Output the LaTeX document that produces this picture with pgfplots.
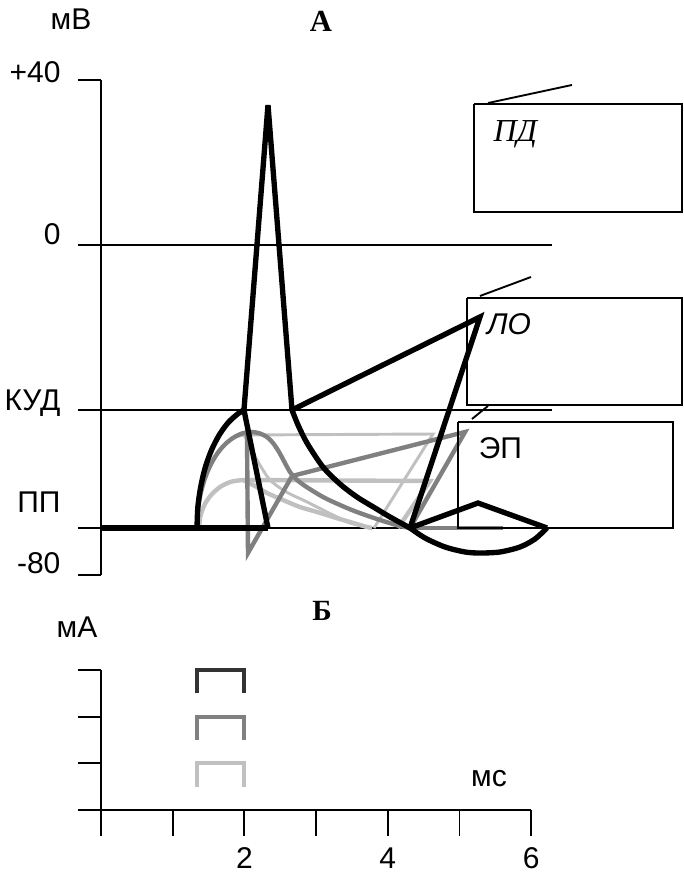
\documentclass[border=0pt]{standalone}
\usepackage{pgfplots}
\pgfplotsset{compat=1.18}
\usepackage{fontspec}
\setmainfont{Liberation Serif}
\newfontfamily\sans{Liberation Sans}

\definecolor{midgray}{HTML}{808080}
\definecolor{lightgray}{HTML}{C0C0C0}
\definecolor{darkgray}{HTML}{333333}

\newcommand{\lab}{\sans\fontsize{22.5}{26}\selectfont}

\begin{document}
\begin{tikzpicture}
\path[use as bounding box] (0,0) rectangle (512.25pt,655.5pt);

% ---------- panel A: membrane potential, mV vs ms ----------
\begin{axis}[
  at={(0,0)}, anchor=south west,
  width=512.25pt, height=655.5pt, scale only axis,
  hide axis, clip=false,
  xmin=-1.40865, xmax=8.11715,
  ymin=-152.4848, ymax=59.3939,
  thinline/.style={black, line width=1.4pt, line cap=butt},
  blk/.style={black, line width=4pt, line join=miter},
  mid/.style={midgray, line width=3.3pt},
  ltk/.style={lightgray, line width=3.3pt},
  ltn/.style={lightgray, line width=2.2pt},
]
% axis, ticks and reference levels
\addplot[thinline] coordinates {(0,40) (0,-80)};
\addplot[thinline] coordinates {(-0.321,40) (0,40)};
\addplot[thinline] coordinates {(-0.321,-80) (0,-80)};
\addplot[thinline] coordinates {(-0.321,0) (6.290,0)};
\addplot[thinline] coordinates {(-0.321,-40) (6.290,-40)};
\addplot[thinline] coordinates {(-0.321,-68.6) (6.290,-68.6)};

% weakest stimulus (thick light gray)
\addplot[ltk, smooth] coordinates {(1.367,-68.6) (1.388,-65.60) (1.449,-62.79) (1.547,-60.39) (1.674,-58.52) (1.822,-57.36) (1.980,-56.97)};
\addplot[ltk, smooth] coordinates {(1.980,-56.97) (2.148,-58.42) (2.315,-60.12) (2.538,-61.82) (2.775,-63.52) (3.013,-64.73) (3.236,-65.94) (3.473,-67.15) (3.710,-68.36) (3.780,-68.6)};
\addplot[ltk] coordinates {(1.980,-56.97) (4.589,-57.21) (4.142,-68.6)};

% thin light gray response
\addplot[ltn, smooth] coordinates {(1.339,-68.6) (1.350,-64.56) (1.385,-60.65) (1.442,-56.97) (1.519,-53.65) (1.612,-50.79) (1.722,-48.46) (1.844,-46.74) (1.994,-46.06)};
\addplot[ltn, smooth] coordinates {(1.994,-46.06) (2.050,-47.76) (2.106,-49.70) (2.176,-52.12) (2.259,-54.55) (2.357,-56.97) (2.497,-58.91) (2.636,-60.36) (2.817,-61.82) (3.013,-63.52) (3.264,-65.70) (3.473,-67.39) (3.752,-68.6)};
\addplot[ltn] coordinates {(1.994,-46.06) (4.630,-45.82) (3.808,-68.6)};

% subthreshold local response (medium gray)
\addplot[mid, smooth] coordinates {(1.339,-68.6) (1.350,-64.56) (1.385,-60.65) (1.442,-56.97) (1.519,-53.65) (1.612,-50.79) (1.722,-48.46) (1.844,-46.74) (1.972,-45.67) (2.106,-45.33) (2.218,-45.70) (2.315,-46.55) (2.399,-48.00) (2.483,-50.18) (2.566,-52.85) (2.636,-55.03) (2.720,-56.73) (2.845,-58.42) (3.096,-61.09) (3.333,-63.03) (3.570,-64.73) (3.891,-66.67) (4.170,-68.12) (4.310,-68.6)};
\addplot[mid] coordinates {(2.036,-45.58) (2.050,-74.67) (2.664,-56.00) (5.077,-45.33) (4.310,-68.6)};
\addplot[mid, line cap=butt] coordinates {(4.310,-68.6) (5.607,-68.6)};

% action potential (black)
\addplot[blk, line cap=butt] coordinates {(0,-68.6) (2.329,-68.6)};
\addplot[blk, smooth] coordinates {(1.339,-68.6) (1.351,-63.47) (1.392,-58.50) (1.456,-53.82) (1.544,-49.60) (1.653,-45.94) (1.778,-42.98) (1.918,-40.80) (1.994,-40)};
\addplot[blk] coordinates {(1.994,-40) (2.329,33.94) (2.664,-40)};
\addplot[blk] coordinates {(1.994,-40) (2.329,-68.6)};
\addplot[blk, smooth] coordinates {(2.664,-40) (2.748,-43.64) (2.873,-48.00) (3.096,-53.82) (3.333,-57.94) (3.570,-61.09) (3.822,-63.76) (4.031,-65.94) (4.310,-68.6)};
\addplot[blk] coordinates {(2.664,-40) (5.286,-17.45) (4.310,-68.6)};
\addplot[blk, smooth] coordinates {(4.310,-68.6) (4.519,-71.03) (4.798,-73.21) (5.077,-74.42) (5.286,-74.67) (5.565,-74.42) (5.844,-73.21) (6.053,-71.27) (6.220,-68.6)};
\addplot[blk] coordinates {(4.310,-68.6) (5.258,-62.55) (6.220,-68.6)};

% callout frames
\addplot[thinline, line join=miter] coordinates {(5.202,34.18) (8.103,34.18) (8.103,8.0) (5.202,8.0) (5.202,34.18)};
\addplot[thinline] coordinates {(5.398,34.42) (6.569,38.79)};
\addplot[thinline, line join=miter] coordinates {(5.105,-12.85) (8.103,-12.85) (8.103,-38.79) (5.105,-38.79) (5.105,-12.85)};
\addplot[thinline] coordinates {(5.286,-12.36) (5.997,-7.76)};
\addplot[thinline, line join=miter] coordinates {(4.979,-42.91) (7.978,-42.91) (7.978,-68.6) (4.979,-68.6) (4.979,-42.91)};
\addplot[thinline] coordinates {(5.174,-42.18) (5.397,-39.03)};

% labels
\node[anchor=base, font=\lab] at (axis cs:-0.418,52.12) {мВ};
\node[anchor=base, font=\bfseries\fontsize{23}{26}\selectfont] at (axis cs:3.068,51.64) {А};
\node[anchor=base east, font=\lab] at (axis cs:-0.500,39.27) {+40};
\node[anchor=base east, font=\lab] at (axis cs:-0.500,0) {0};
\node[anchor=base east, font=\lab] at (axis cs:-0.500,-40.24) {КУД};
\node[anchor=base east, font=\lab] at (axis cs:-0.500,-64.73) {ПП};
\node[anchor=base east, font=\lab] at (axis cs:-0.500,-79.52) {-80};
\node[anchor=base west, font=\itshape\fontsize{24}{28}\selectfont] at (axis cs:5.410,24.97) {ПД};
\node[anchor=base west, font=\sans\itshape\fontsize{22.5}{26}\selectfont] at (axis cs:5.320,-21.82) {ЛО};
\node[anchor=base west, font=\lab] at (axis cs:5.205,-51.64) {ЭП};
\end{axis}

% ---------- panel B: stimulus current, mA vs ms ----------
\begin{axis}[
  at={(0,0)}, anchor=south west,
  width=512.25pt, height=655.5pt, scale only axis,
  hide axis, clip=false,
  xmin=-1.40865, xmax=8.11715,
  ymin=-1.3714, ymax=17.357,
  thinline/.style={black, line width=1.4pt, line cap=butt},
  pulse/.style={line width=2.8pt, line join=miter, line cap=butt},
]
\addplot[thinline] coordinates {(0,3) (0,0) (6,0)};
\addplot[thinline] coordinates {(-0.321,3) (0,3)};
\addplot[thinline] coordinates {(-0.321,2) (0,2)};
\addplot[thinline] coordinates {(-0.321,1) (0,1)};
\addplot[thinline] coordinates {(-0.321,0) (0,0)};
\addplot[thinline] coordinates {(0,0) (0,-0.557)};
\addplot[thinline] coordinates {(1,0) (1,-0.557)};
\addplot[thinline] coordinates {(2,0) (2,-0.557)};
\addplot[thinline] coordinates {(3,0) (3,-0.557)};
\addplot[thinline] coordinates {(4,0) (4,-0.557)};
\addplot[thinline] coordinates {(5,0) (5,-0.557)};
\addplot[thinline] coordinates {(6,0) (6,-0.557)};

\addplot[pulse, darkgray] coordinates {(1.339,2.5) (1.339,3) (1.994,3) (1.994,2.5)};
\addplot[pulse, midgray] coordinates {(1.339,1.5) (1.339,2) (1.994,2) (1.994,1.5)};
\addplot[pulse, lightgray] coordinates {(1.339,0.5) (1.339,1) (1.994,1) (1.994,0.5)};

\node[anchor=base, font=\bfseries\fontsize{22}{26}\selectfont] at (axis cs:3.082,4.071) {Б};
\node[anchor=base, font=\lab] at (axis cs:-0.335,3.686) {мА};
\node[anchor=base, font=\lab] at (axis cs:5.411,0.493) {мс};
\node[anchor=base, font=\lab] at (axis cs:2,-1.264) {2};
\node[anchor=base, font=\lab] at (axis cs:4,-1.264) {4};
\node[anchor=base, font=\lab] at (axis cs:6,-1.264) {6};
\end{axis}
\end{tikzpicture}
\end{document}
